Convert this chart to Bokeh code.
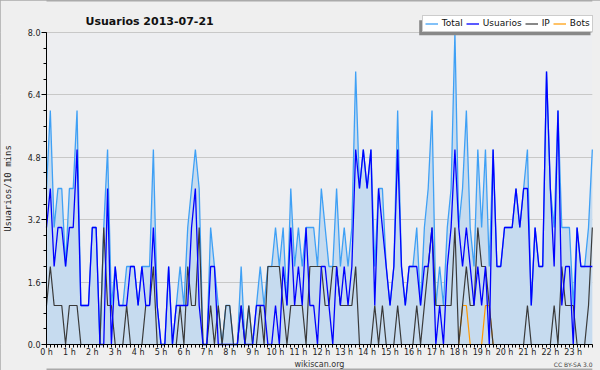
from bokeh.plotting import figure
from bokeh.models import (FixedTicker, Legend, LegendItem, Label, BoxAnnotation,
                          Range1d, PrintfTickFormatter)
from bokeh.embed import file_html
from bokeh.resources import INLINE

hour_labels = [f"{h} h" for h in range(24)]
slots = list(range(144))  # 10-minute slots

usuarios = [3, 4, 2, 3, 3, 2,  3, 3, 5, 1, 1, 1,  3, 3, 0, 0, 4, 0,  2, 1, 1, 1, 2, 2,
            1, 2, 1, 1, 3, 1,  0, 0, 2, 0, 1, 1,  1, 1, 3, 4, 1, 0,  0, 2, 2, 0, 0, 0,
            0, 0, 0, 1, 0, 0,  0, 1, 1, 1, 0, 0,  1, 0, 2, 1, 3, 1,  2, 1, 3, 1, 1, 0,
            2, 2, 1, 0, 2, 1,  2, 1, 2, 5, 4, 5,  4, 5, 1, 4, 3, 2,  1, 2, 5, 2, 1, 2,
            2, 2, 1, 2, 2, 3,  0, 1, 0, 2, 3, 5,  3, 2, 3, 2, 1, 2,  1, 2, 0, 5, 2, 2,
            3, 3, 3, 4, 3, 4,  4, 1, 3, 2, 2, 7,  4, 2, 6, 1, 2, 2,  0, 3, 2, 2, 2, 2]
ip = [1, 2, 1, 1, 1, 0,  1, 1, 1, 0, 0, 0,  0, 0, 0, 3, 1, 1,  0, 0, 0, 1, 0, 0,
      0, 0, 1, 1, 2, 0,  0, 0, 0, 0, 0, 1,  0, 2, 1, 1, 3, 0,  0, 1, 0, 1, 0, 1,
      1, 0, 0, 1, 0, 1,  0, 0, 1, 0, 2, 2,  2, 2, 1, 0, 1, 1,  1, 1, 0, 2, 2, 2,
      2, 1, 1, 2, 2, 1,  1, 1, 1, 2, 0, 0,  0, 0, 1, 0, 1, 0,  0, 0, 1, 0, 0, 0,
      0, 1, 0, 1, 2, 3,  1, 1, 1, 1, 1, 3,  0, 1, 2, 1, 1, 3,  2, 2, 1, 0, 0, 0,
      0, 0, 0, 0, 0, 0,  1, 0, 0, 0, 0, 0,  0, 1, 0, 2, 1, 1,  1, 0, 0, 0, 1, 3]
bots = [0] * 6 * 18 + [0, 1, 1, 0, 0, 0,  0, 1, 1, 0, 0, 0] + [0] * 6 * 4
total = [4, 6, 3, 4, 4, 2,  4, 4, 6, 1, 1, 1,  3, 3, 0, 3, 5, 1,  2, 1, 1, 2, 2, 2,
         1, 2, 2, 2, 5, 1,  0, 0, 2, 0, 1, 2,  1, 3, 4, 5, 4, 0,  0, 3, 2, 1, 0, 1,
         1, 0, 0, 2, 0, 1,  0, 1, 2, 1, 2, 2,  3, 2, 3, 1, 4, 2,  3, 2, 3, 3, 3, 2,
         4, 3, 2, 2, 4, 2,  3, 2, 3, 7, 4, 5,  4, 5, 2, 4, 4, 2,  1, 2, 6, 2, 1, 2,
         2, 3, 1, 3, 4, 6,  1, 2, 1, 3, 4, 8,  3, 4, 6, 3, 2, 5,  3, 5, 2, 5, 2, 2,
         3, 3, 3, 4, 3, 4,  5, 1, 3, 2, 2, 7,  4, 3, 6, 3, 3, 3,  1, 3, 2, 2, 3, 5]
y_ticks = [0.0, 1.6, 3.2, 4.8, 6.4, 8.0]

FONT = "DejaVu Sans"
W, H = 600, 370
# pixel geometry of the plotting area inside the canvas
PX_LEFT, PX_BOTTOM = 46, 344
PX_PER_SLOT, PX_PER_UNIT = 3.817, 39.0
N = len(slots) - 1
YMAX = y_ticks[-1]

x0 = -PX_LEFT / PX_PER_SLOT
x1 = (W - PX_LEFT) / PX_PER_SLOT
y0 = -(H - PX_BOTTOM) / PX_PER_UNIT
y1 = PX_BOTTOM / PX_PER_UNIT

p = figure(width=W, height=H, output_backend="svg", toolbar_location=None,
           title_location=None, min_border=0,
           x_range=Range1d(x0, x1), y_range=Range1d(y0, y1),
           background_fill_color="#efefef", border_fill_color="#efefef")
p.outline_line_color = "#aaaaaa"
p.outline_line_width = 2

# plot-area background
p.add_layout(BoxAnnotation(left=0, right=N, bottom=0, top=YMAX, level="image",
                           fill_color="#edeef1", fill_alpha=1.0, line_color=None))

# x axis
xa = p.xaxis[0]
xa.fixed_location = 0
xa.bounds = (0, N)
xa.ticker = FixedTicker(ticks=list(range(0, 144, 6)), minor_ticks=slots)
xa.major_label_overrides = {i * 6: hour_labels[i] for i in range(24)}
xa.major_label_text_font = FONT
xa.major_label_text_font_size = "8px"
xa.major_label_text_color = "#222222"
xa.major_label_standoff = 0
xa.major_tick_in = 0
xa.major_tick_out = 3
xa.minor_tick_in = 0
xa.minor_tick_out = 3
xa.axis_label = "wikiscan.org"
xa.axis_label_text_font = FONT
xa.axis_label_text_font_size = "8px"
xa.axis_label_text_font_style = "normal"
xa.axis_label_text_color = "#333333"
xa.axis_label_standoff = 0
xa.axis_line_color = "black"

# y axis
ya = p.yaxis[0]
ya.fixed_location = 0
ya.bounds = (0, YMAX)
ya.ticker = FixedTicker(ticks=y_ticks, minor_ticks=[0.4 * k for k in range(21)])
ya.formatter = PrintfTickFormatter(format="%.1f")
ya.major_label_text_font = FONT
ya.major_label_text_font_size = "8px"
ya.major_label_text_color = "#222222"
ya.major_label_standoff = 1
ya.major_tick_in = 0
ya.major_tick_out = 5
ya.minor_tick_in = 0
ya.minor_tick_out = 3
ya.axis_label = "Usuarios/10 mins"
ya.axis_label_text_font = "DejaVu Sans Mono"
ya.axis_label_text_font_size = "9px"
ya.axis_label_text_font_style = "normal"
ya.axis_label_text_color = "#222222"
ya.axis_label_standoff = 12

p.xgrid.visible = False
p.ygrid.grid_line_color = "#c8c8c8"

# hide grid lines outside the plotting area
p.add_layout(BoxAnnotation(right=0, level="underlay", fill_color="#efefef",
                           fill_alpha=1.0, line_color=None))
p.add_layout(BoxAnnotation(left=N, level="underlay", fill_color="#efefef",
                           fill_alpha=1.0, line_color=None))

p.varea(x=slots, y1=[0] * len(slots), y2=total, fill_color="#c6dbef")
r_bots = p.line(slots, bots, line_color="#ff9900", line_width=1.2)
r_total = p.line(slots, total, line_color="#3fa0f5", line_width=1.3)
r_ip = p.line(slots, ip, line_color="#3a3a3a", line_width=1.2)
r_users = p.line(slots, usuarios, line_color="#0000ff", line_width=1.3)

# title
p.add_layout(Label(x=85, y=349, x_units="screen", y_units="screen",
                   text="Usuarios  2013-07-21", text_font=FONT, text_font_size="11px",
                   text_font_style="bold", text_color="#111111",
                   text_baseline="alphabetic", text_align="left"))

# legend shadow
p.add_layout(BoxAnnotation(left=418.7, right=590, bottom=335.3, top=350.3,
                           left_units="screen", right_units="screen",
                           top_units="screen", bottom_units="screen",
                           fill_color="#888888", fill_alpha=1.0, line_color=None))

legend = Legend(items=[LegendItem(label="Total", renderers=[r_total]),
                       LegendItem(label="Usuarios", renderers=[r_users]),
                       LegendItem(label="IP", renderers=[r_ip]),
                       LegendItem(label="Bots", renderers=[r_bots])],
                orientation="horizontal", location=(421.7, 338.3),
                glyph_width=13, glyph_height=11, label_height=11, label_width=1,
                label_text_font=FONT, label_text_font_size="9px",
                label_text_color="#111111",
                label_standoff=4, spacing=3, padding=2, margin=0,
                border_line_color="#999999", border_line_width=1,
                background_fill_color="white", background_fill_alpha=1.0)
p.add_layout(legend)

p.add_layout(Label(x=592, y=6, x_units="screen", y_units="screen", text="CC BY-SA 3.0",
                   text_font=FONT, text_font_size="6px", text_color="#444444",
                   text_align="right", text_baseline="middle"))

open("out.html", "w").write(file_html(p, INLINE))
